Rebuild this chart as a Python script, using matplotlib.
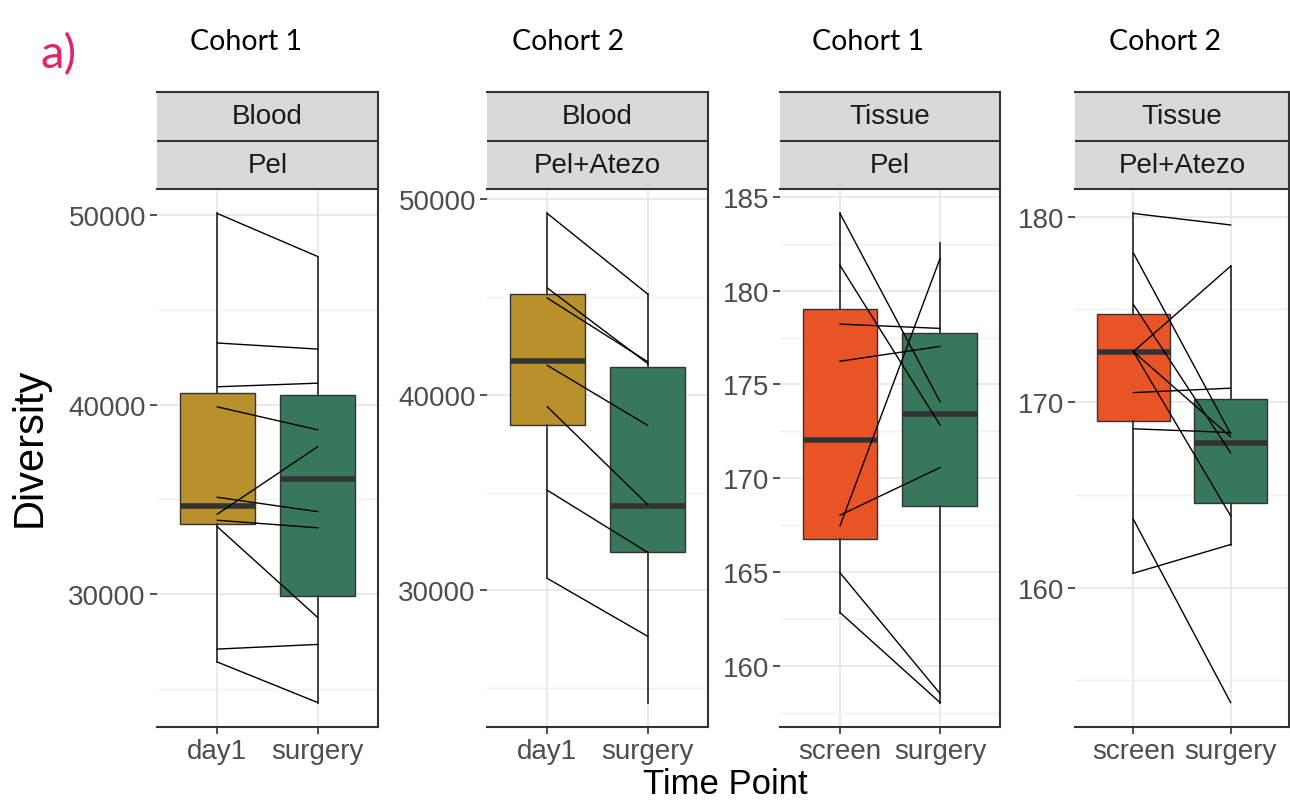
import matplotlib
matplotlib.use("Agg")
import matplotlib.pyplot as plt
from matplotlib.ticker import MultipleLocator

# panel labels
cohorts = ["Cohort 1", "Cohort 2", "Cohort 1", "Cohort 2"]
sources = ["Blood", "Blood", "Tissue", "Tissue"]
treatments = ["Pel", "Pel+Atezo", "Pel", "Pel+Atezo"]
timepoints = [["day1", "surgery"], ["day1", "surgery"],
              ["screen", "surgery"], ["screen", "surgery"]]

# paired diversity per patient (first time point -> surgery)
p1_pre = [50095, 43258, 40947, 39886, 34223, 35114, 33902, 33561, 27102, 26420]
p1_post = [47822, 42936, 41136, 38674, 37784, 34356, 33504, 28769, 27348, 24280]
p2_pre = [49282, 45470, 44954, 41510, 39392, 35120, 30608]
p2_post = [45157, 41602, 41694, 38435, 34383, 31934, 27643]
p3_pre = [184.12, 181.35, 178.22, 176.24, 167.46, 168.03, 164.96, 162.84]
p3_post = [174.09, 172.84, 177.99, 177.03, 181.71, 170.57, 158.52, 158.04]
p4_pre = [180.17, 178.04, 175.26, 172.72, 172.72, 172.72, 170.51, 168.56, 163.68, 160.77]
p4_post = [179.55, 168.29, 167.26, 177.33, 168.13, 163.87, 170.75, 168.36, 153.80, 162.32]

# box summaries: [whisker low, q1, median, q3, whisker high]
p1_box = [[26420, 33693, 34678, 40606, 50095], [24280, 29924, 36061, 40511, 47822]]
p2_box = [[30608, 38435, 41731, 45157, 49282], [24254, 31934, 34328, 41418, 45157]]
p3_box = [[162.84, 166.78, 172.05, 179.04, 184.12], [158.04, 168.51, 173.45, 177.74, 182.52]]
p4_box = [[160.77, 168.96, 172.68, 174.75, 180.17], [162.32, 164.55, 167.78, 170.16, 177.33]]

pres = [p1_pre, p2_pre, p3_pre, p4_pre]
posts = [p1_post, p2_post, p3_post, p4_post]
boxes = [p1_box, p2_box, p3_box, p4_box]
major_step = [10000, 10000, 5, 10]

gold = "#B8902C"
green = "#37775B"
orange = "#E95427"
box_colors = [[gold, green], [gold, green], [orange, green], [orange, green]]

W, H = 1290, 803
fig = plt.figure(figsize=(W / 100, H / 100), dpi=100)
plt.rcParams["font.family"] = ["Liberation Sans", "DejaVu Sans"]

# pixel extents of the four panels
px_left = [157, 487, 780, 1075]
px_right = [378, 708, 1000, 1289]
strip_top, strip_mid, plot_top, plot_bot = 93, 141, 190, 728
dark = "#333333"
grey_txt = "#4D4D4D"


def rect(x0, x1, ytop, ybot):
    return [x0 / W, (H - ybot) / H, (x1 - x0) / W, (ybot - ytop) / H]


for i in range(4):
    ax = fig.add_axes(rect(px_left[i], px_right[i], plot_top, plot_bot))
    stats = []
    for b in boxes[i]:
        stats.append(dict(whislo=b[0], q1=b[1], med=b[2], q3=b[3], whishi=b[4], fliers=[]))
    bp = ax.bxp(stats, positions=[1, 2], widths=0.75, patch_artist=True,
                showcaps=False, showfliers=False,
                boxprops=dict(edgecolor=dark, linewidth=1.0),
                whiskerprops=dict(color=dark, linewidth=1.3),
                medianprops=dict(color=dark, linewidth=4.0, solid_capstyle="butt"))
    for patch, c in zip(bp["boxes"], box_colors[i]):
        patch.set_facecolor(c)
    for a, b in zip(pres[i], posts[i]):
        ax.plot([1, 2], [a, b], color="black", linewidth=1.0, zorder=4)

    vals = pres[i] + posts[i] + [v for b in boxes[i] for v in b]
    lo, hi = min(vals), max(vals)
    pad = 0.05 * (hi - lo)
    ax.set_ylim(lo - pad, hi + pad)
    ax.set_xlim(0.4, 2.6)
    ax.set_xticks([1, 2])
    ax.set_xticklabels(timepoints[i])
    ax.yaxis.set_major_locator(MultipleLocator(major_step[i]))
    ax.yaxis.set_minor_locator(MultipleLocator(major_step[i] / 2))
    ax.grid(True, which="major", color="#E6E6E6", linewidth=1.2)
    ax.grid(True, which="minor", axis="y", color="#EFEFEF", linewidth=0.9)
    ax.set_axisbelow(True)
    for s in ["left", "top"]:
        ax.spines[s].set_visible(False)
    for s in ["right", "bottom"]:
        ax.spines[s].set_color(dark)
        ax.spines[s].set_linewidth(1.5)
    ax.tick_params(axis="both", which="major", labelsize=20, labelcolor=grey_txt,
                   color=dark, length=5, width=1.2, pad=3)
    ax.tick_params(axis="y", which="minor", length=0)
    ax.tick_params(axis="y", left=True, right=False)

    # facet strip with two rows
    st = fig.add_axes(rect(px_left[i], px_right[i], strip_top, plot_top))
    st.set_facecolor("#D9D9D9")
    st.set_xlim(0, 1)
    st.set_ylim(0, 2)
    st.set_xticks([])
    st.set_yticks([])
    st.spines["left"].set_visible(False)
    for s in ["right", "top", "bottom"]:
        st.spines[s].set_color(dark)
        st.spines[s].set_linewidth(1.5)
    st.axhline(1, color=dark, linewidth=1.5)
    st.text(0.5, 1.5, sources[i], ha="center", va="center", fontsize=20, color="#1A1A1A")
    st.text(0.5, 0.5, treatments[i], ha="center", va="center", fontsize=20, color="#1A1A1A")

# cohort headings
cohort_x = [246, 568, 868, 1165]
for x, label in zip(cohort_x, cohorts):
    fig.text(x / W, 1 - 42 / H, label, ha="center", va="center", fontsize=20.5,
             family=["Lato", "DejaVu Sans"], color="black")

fig.text(59 / W, 1 - 55 / H, "a)", ha="center", va="center", fontsize=34,
         family=["Lato", "DejaVu Sans"], color="#E0246E")
fig.text(30 / W, 1 - 447 / H, "Diversity", ha="center", va="center", rotation=90,
         fontsize=30, color="black")
fig.text(725 / W, 1 - 785 / H, "Time Point", ha="center", va="center",
         fontsize=25, color="black")

fig.savefig("out.png", dpi=100)
